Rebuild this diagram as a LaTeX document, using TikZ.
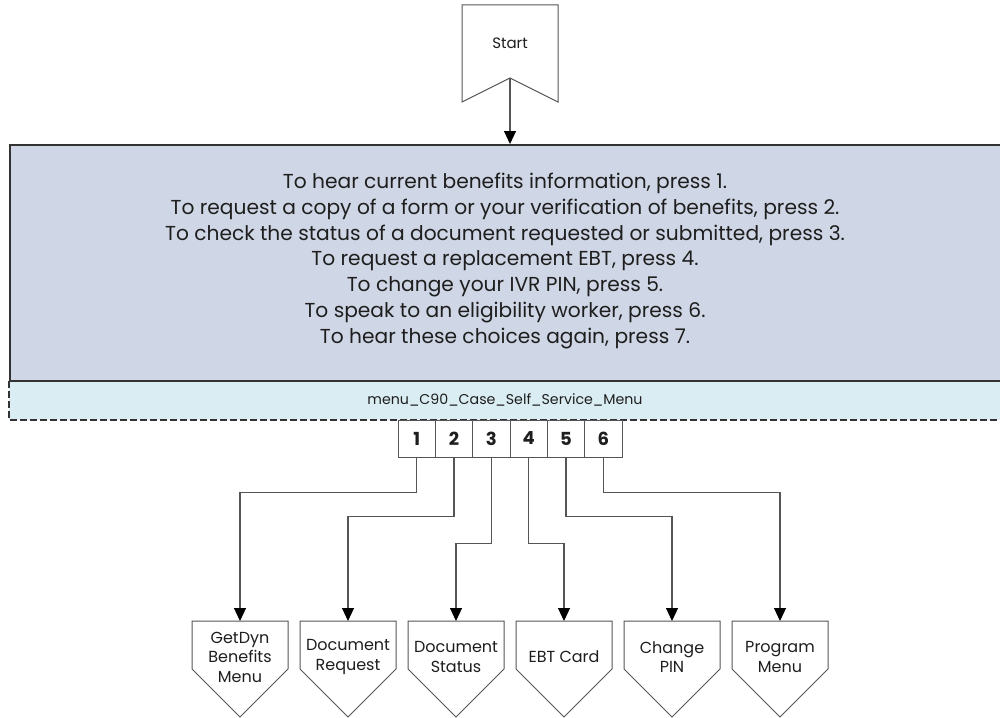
\documentclass[tikz,border=0pt]{standalone}
\usepackage{fontspec}
\setmainfont{Poppins}
\usetikzlibrary{arrows.meta}
\definecolor{mainfill}{RGB}{207,214,229}
\definecolor{bandfill}{RGB}{218,237,243}
\definecolor{edge}{RGB}{51,51,51}
\definecolor{wire}{RGB}{85,85,85}
\definecolor{txt}{RGB}{30,30,30}
\begin{document}
\begin{tikzpicture}[x=1pt,y=-1pt,
  shapeline/.style={draw=wire,line width=1pt,fill=white},
  keybox/.style={draw=wire,line width=0.9pt,minimum width=37.33pt,minimum height=37pt,inner sep=0pt,
    font=\fontsize{18}{20}\selectfont\bfseries,text=txt},
  arr/.style={draw=wire,line width=1.1pt,-{Triangle[width=12pt,length=13pt,color=black]}},
  tlbl/.style={align=center,inner sep=0pt,text=txt,font=\fontsize{16}{19.5}\selectfont},
  startlbl/.style={inner sep=0pt,text=txt,font=\fontsize{15}{18}\selectfont},
  menutext/.style={align=center,inner sep=0pt,text=txt,font=\fontsize{20.2}{25.8}\selectfont},
  bandlbl/.style={inner sep=0pt,text=txt,font=\fontsize{14.2}{16}\selectfont}
]
\clip (0,0) rectangle (1000,717);
% Start
\coordinate (startapex) at (510,78);
\draw[shapeline] (462,5) -- (558,5) -- (558,102) -- (startapex) -- (462,102) -- cycle;
\node[startlbl] (start) at (510,43) {Start};
% main menu box
\node[draw=edge,line width=1.5pt,fill=mainfill,minimum width=996pt,minimum height=237pt,inner sep=0pt,anchor=north west] (menu) at (9,144) {};
\node[menutext] (menutxt) at (505,261) {To hear current benefits information, press 1.\\
To request a copy of a form or your verification of benefits, press 2.\\
To check the status of a document requested or submitted, press 3.\\
To request a replacement EBT, press 4.\\
To change your IVR PIN, press 5.\\
To speak to an eligibility worker, press 6.\\
To hear these choices again, press 7.};
% band
\fill[bandfill] (9,381) rectangle (1005,420);
\draw[edge,line width=1.4pt,dash pattern=on 7pt off 3pt] (9,381) -- (9,420) -- (1005,420);
\draw[edge,line width=2pt] (9,381) -- (1005,381);
\node[bandlbl] (band) at (505,400) {menu\_C90\_Case\_Self\_Service\_Menu};
% arrow start -> menu
\draw[arr] (startapex) -- (startapex |- menu.north);
% keys
\node[keybox] (k1) at (416.67,438.5) {1};
\node[keybox] (k2) at (454.00,438.5) {2};
\node[keybox] (k3) at (491.33,438.5) {3};
\node[keybox] (k4) at (528.67,438.5) {4};
\node[keybox] (k5) at (566.00,438.5) {5};
\node[keybox] (k6) at (603.33,438.5) {6};
% targets
\foreach \cx in {240,348,456,564,672,780}{
  \draw[shapeline] (\cx-48,621) -- (\cx+48,621) -- (\cx+48,669) -- (\cx,717) -- (\cx-48,669) -- cycle;
}
\coordinate (t1top) at (240,621);
\coordinate (t2top) at (348,621);
\coordinate (t3top) at (456,621);
\coordinate (t4top) at (564,621);
\coordinate (t5top) at (672,621);
\coordinate (t6top) at (780,621);
\node[tlbl] (t1) at (240,657) {GetDyn\\Benefits\\Menu};
\node[tlbl] (t2) at (348,657) {Document\\Request};
\node[tlbl] (t3) at (456,657) {Document\\Status};
\node[tlbl] (t4) at (564,657) {EBT Card};
\node[tlbl] (t5) at (672,657) {Change\\PIN};
\node[tlbl] (t6) at (780,657) {Program\\Menu};
% connectors
\draw[arr] (k1.south) -- ++(0,35) -| (t1top);
\draw[arr] (k2.south) -- ++(0,59) -| (t2top);
\draw[arr] (k3.south) -- ++(0,86) -| (t3top);
\draw[arr] (k4.south) -- ++(0,86) -| (t4top);
\draw[arr] (k5.south) -- ++(0,59) -| (t5top);
\draw[arr] (k6.south) -- ++(0,35) -| (t6top);
\end{tikzpicture}
\end{document}
